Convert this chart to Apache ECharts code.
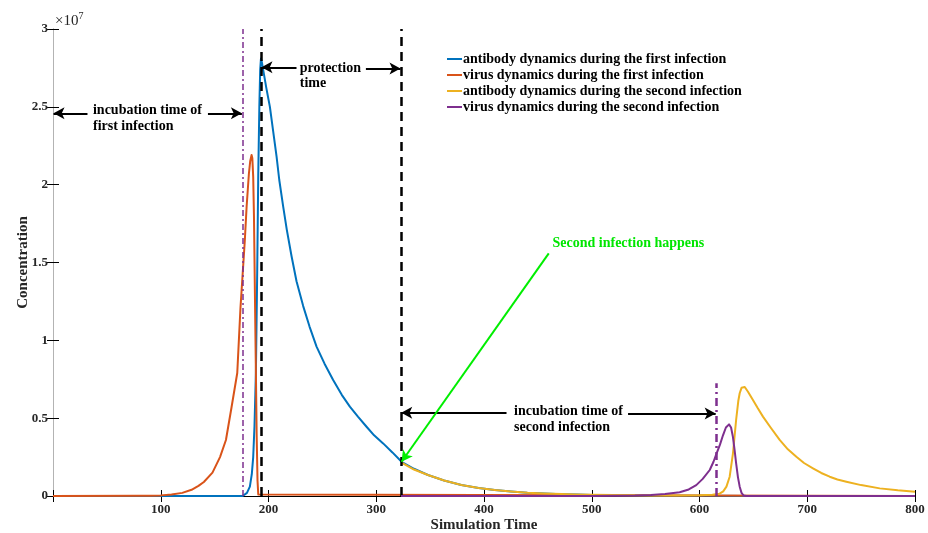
<!DOCTYPE html>
<html>
<head>
<meta charset="utf-8">
<script src="https://cdn.jsdelivr.net/npm/echarts@6/dist/echarts.min.js"></script>
<style>
  html, body { margin: 0; padding: 0; background: #fff; }
  #chart { width: 928px; height: 533px; }
</style>
</head>
<body>
<div id="chart"></div>
<script>
// Concentrations are in units of 1e7 (see the "×10^7" axis multiplier).

// antibody dynamics during the first infection
const antibody1X = [0, 176, 180, 182.7, 184.5, 185.8, 187, 188.3, 189.5, 190.5, 191.5, 192.3, 193, 194, 196, 198, 201.3, 204, 207.5, 210, 213.6, 217, 221.4, 226, 232.2, 238, 244.6, 252, 260, 268, 275.5, 283, 291, 298, 306.4, 315, 323.5, 335, 348, 363, 379, 395, 410, 425, 440, 456, 472, 486, 500, 530, 560, 600, 650, 700, 800];
const antibody1Y = [0, 0, 0.02, 0.06, 0.14, 0.25, 0.45, 0.79, 1.43, 2.07, 2.5, 2.74, 2.81, 2.78, 2.7, 2.62, 2.5, 2.36, 2.18, 2.03, 1.86, 1.71, 1.54, 1.38, 1.22, 1.09, 0.96, 0.85, 0.745, 0.65, 0.574, 0.51, 0.445, 0.39, 0.338, 0.28, 0.22, 0.175, 0.135, 0.1, 0.071, 0.052, 0.039, 0.029, 0.021, 0.016, 0.012, 0.009, 0.007, 0.004, 0.002, 0.001, 0.0005, 0, 0];

// virus dynamics during the first infection
const virus1X = [0, 80, 90, 100, 110, 120, 128.6, 135, 140, 148, 155, 160.5, 165.7, 171, 174, 178, 179.7, 181.8, 183, 184.3, 185, 185.8, 186.5, 187.3, 188.2, 189, 189.8, 190.5, 191.5, 800];
const virus1Y = [0, 0.001, 0.002, 0.004, 0.009, 0.02, 0.04, 0.065, 0.09, 0.15, 0.25, 0.36, 0.57, 0.79, 1.21, 1.64, 1.86, 2.07, 2.15, 2.19, 2.17, 2.05, 1.8, 1.35, 0.85, 0.4, 0.1, 0.01, 0, 0];

// antibody dynamics during the second infection
const antibody2X = [323.5, 335, 348, 363, 379, 395, 410, 425, 440.6, 456, 472, 486, 500, 520, 540, 560, 580, 600, 612, 618.7, 622, 625, 628, 631, 634, 636, 637.3, 639, 640.4, 642, 645, 649.6, 654, 658.9, 666, 674.4, 682, 689.9, 697, 705.3, 713, 720.8, 728, 736.3, 750, 767.3, 784, 800];
const antibody2Y = [0.214, 0.17, 0.135, 0.1, 0.071, 0.052, 0.039, 0.029, 0.021, 0.016, 0.013, 0.01, 0.008, 0.006, 0.005, 0.004, 0.004, 0.005, 0.008, 0.015, 0.03, 0.06, 0.124, 0.27, 0.49, 0.61, 0.66, 0.695, 0.705, 0.7, 0.67, 0.617, 0.565, 0.51, 0.44, 0.36, 0.3, 0.252, 0.212, 0.178, 0.148, 0.124, 0.106, 0.092, 0.07, 0.049, 0.037, 0.028];

// virus dynamics during the second infection
const virus2X = [323, 500, 520, 540, 555, 568, 581.6, 590, 597, 603, 609.5, 613, 615.7, 619, 621.8, 624.5, 627.4, 629.3, 631, 632.5, 634, 635.7, 637.3, 639, 641, 643, 800];
const virus2Y = [0, 0, 0.001, 0.003, 0.007, 0.013, 0.024, 0.042, 0.07, 0.11, 0.167, 0.22, 0.27, 0.33, 0.39, 0.44, 0.46, 0.44, 0.38, 0.3, 0.21, 0.12, 0.06, 0.02, 0.003, 0, 0];

const seriesNames = [
  'antibody dynamics during the first infection',
  'virus dynamics during the first infection',
  'antibody dynamics during the second infection',
  'virus dynamics during the second infection'
];
const seriesColors = ['#0072BD', '#D95319', '#EDB120', '#7E2F8E'];

const xTicks = [0, 100, 200, 300, 400, 500, 600, 700, 800];
const xTickLabels = ['', '100', '200', '300', '400', '500', '600', '700', '800'];
const yTicks = [0, 0.5, 1, 1.5, 2, 2.5, 3];
const yTickLabels = ['0', '0.5', '1', '1.5', '2', '2.5', '3'];

// Event times on the simulation axis
const incubationStart1 = 176;
const antibodyPeak1 = 193;
const secondInfection = 323;
const incubationEnd2 = 616;
const incubationMarkTop2 = 0.724;

const FONT = '"Times New Roman", "Liberation Serif", serif';

function pairs(xs, ys) { return xs.map((x, i) => [x, ys[i]]); }
function tickLabel(ticks, labels) {
  return v => { const i = ticks.findIndex(t => Math.abs(t - v) < 1e-9); return i >= 0 ? labels[i] : ''; };
}

const arrowBlack = { color: '#000', width: 2, type: 'solid' };
const markLines = [
  // vertical markers
  [{ coord: [incubationStart1, 0], symbol: 'none', lineStyle: { color: '#7E2F8E', width: 1.5, type: [6, 3, 2, 3] } }, { coord: [incubationStart1, 3], symbol: 'none' }],
  [{ coord: [antibodyPeak1, 0], symbol: 'none', lineStyle: { color: '#000', width: 2.5, type: [9, 6] } }, { coord: [antibodyPeak1, 3], symbol: 'none' }],
  [{ coord: [secondInfection, 0], symbol: 'none', lineStyle: { color: '#000', width: 2.5, type: [9, 6] } }, { coord: [secondInfection, 3], symbol: 'none' }],
  [{ coord: [incubationEnd2, 0], symbol: 'none', lineStyle: { color: '#7E2F8E', width: 2.5, type: [8, 4, 2, 4] } }, { coord: [incubationEnd2, incubationMarkTop2], symbol: 'none' }],
  // arrows for "incubation time of first infection"
  [{ coord: [32, 2.458], symbol: 'none', lineStyle: arrowBlack }, { coord: [0.5, 2.458], symbol: 'arrow' }],
  [{ coord: [143.8, 2.458], symbol: 'none', lineStyle: arrowBlack }, { coord: [175.3, 2.458], symbol: 'arrow' }],
  // arrows for "protection time"
  [{ coord: [226, 2.754], symbol: 'none', lineStyle: arrowBlack }, { coord: [193.5, 2.754], symbol: 'arrow' }],
  [{ coord: [290.4, 2.747], symbol: 'none', lineStyle: arrowBlack }, { coord: [322.5, 2.747], symbol: 'arrow' }],
  // arrows for "incubation time of second infection"
  [{ coord: [420.9, 0.535], symbol: 'none', lineStyle: arrowBlack }, { coord: [323.2, 0.535], symbol: 'arrow' }],
  [{ coord: [533.7, 0.53], symbol: 'none', lineStyle: arrowBlack }, { coord: [615, 0.53], symbol: 'arrow' }],
  // green pointer to the second infection
  [{ coord: [460.1, 1.559], symbol: 'none', lineStyle: { color: '#00ee00', width: 2, type: 'solid' } }, { coord: [323.5, 0.22], symbol: 'arrow' }]
];

const chart = echarts.init(document.getElementById('chart'), null, { renderer: 'canvas' });

const lineSeries = [
  pairs(antibody1X, antibody1Y),
  pairs(virus1X, virus1Y),
  pairs(antibody2X, antibody2Y),
  pairs(virus2X, virus2Y)
].map((data, i) => ({
  name: seriesNames[i],
  type: 'line',
  data: data,
  symbol: 'none',
  smooth: false,
  color: seriesColors[i],
  lineStyle: { width: 2, color: seriesColors[i], join: 'round' },
  z: 2 + i
}));

const option = {
  animation: false,
  backgroundColor: '#fff',
  grid: { left: 53, right: 13, top: 29, bottom: 37, outerBoundsMode: 'none', containLabel: false },
  legend: {
    data: seriesNames,
    orient: 'vertical',
    left: 442,
    top: 47,
    itemWidth: 15,
    itemHeight: 10,
    itemGap: 2,
    icon: 'path://M0,4 L15,4 L15,6 L0,6 Z',
    textStyle: { fontFamily: FONT, fontWeight: 'bold', fontSize: 14, color: '#000', padding: [0, 0, 0, -4] }
  },
  xAxis: [{
    type: 'value', min: 0, max: 800, interval: 100, position: 'bottom',
    axisLine: { show: true, lineStyle: { color: '#000', width: 1 } },
    axisTick: { show: true, inside: true, length: 6, lineStyle: { color: '#000' } },
    axisLabel: { formatter: tickLabel(xTicks, xTickLabels), fontFamily: FONT, fontWeight: 'bold', fontSize: 13, color: '#262626', margin: 7 },
    splitLine: { show: false }
  }, {
    type: 'value', min: 0, max: 800, interval: 100, position: 'top',
    axisLine: { show: true, lineStyle: { color: '#000', width: 1 } },
    axisTick: { show: true, inside: true, length: 6, lineStyle: { color: '#000' } },
    axisLabel: { show: false },
    splitLine: { show: false }
  }],
  yAxis: [{
    type: 'value', min: 0, max: 3, interval: 0.5, position: 'left',
    axisLine: { show: true, lineStyle: { color: '#b3b3b3', width: 1 } },
    axisTick: { show: true, inside: true, length: 6, lineStyle: { color: '#000' } },
    axisLabel: { formatter: tickLabel(yTicks, yTickLabels), fontFamily: FONT, fontWeight: 'bold', fontSize: 13, color: '#262626', margin: 5 },
    splitLine: { show: false }
  }, {
    type: 'value', min: 0, max: 3, interval: 0.5, position: 'right',
    axisLine: { show: true, lineStyle: { color: '#b3b3b3', width: 1 } },
    axisTick: { show: true, inside: true, length: 6, lineStyle: { color: '#000' } },
    axisLabel: { show: false },
    splitLine: { show: false }
  }],
  series: lineSeries.concat([{
    name: 'markers',
    type: 'line',
    data: [],
    z: 10,
    silent: true,
    markLine: {
      silent: true,
      animation: false,
      symbolSize: [9, 11],
      label: { show: false },
      emphasis: { disabled: true },
      data: markLines
    }
  }])
};
chart.setOption(option);

// Annotation texts, anchored in data coordinates (left edge, vertical centre of first line)
const notes = [
  { at: [37.1, 2.475], text: 'incubation time of\nfirst infection', color: '#000', lh: 16 },
  { at: [229, 2.748], text: 'protection\ntime', color: '#000', lh: 15.5 },
  { at: [427.9, 0.542], text: 'incubation time of\nsecond infection', color: '#000', lh: 15.5 },
  { at: [463.6, 1.62], text: 'Second infection happens', color: '#00e600', lh: 15 }
];
const graphics = notes.map(n => {
  const p = chart.convertToPixel({ xAxisIndex: 0, yAxisIndex: 0 }, n.at);
  return {
    type: 'text', left: p[0], top: p[1] - n.lh / 2, silent: true,
    style: { text: n.text, fill: n.color, font: 'bold 14px ' + FONT, lineHeight: n.lh, textVerticalAlign: 'top' }
  };
});
// axis titles, centred on the plot area
const plotLeftBottom = chart.convertToPixel({ xAxisIndex: 0, yAxisIndex: 0 }, [0, 0]);
const plotRightTop = chart.convertToPixel({ xAxisIndex: 0, yAxisIndex: 0 }, [800, 3]);
graphics.push({
  type: 'text', x: (plotLeftBottom[0] + plotRightTop[0]) / 2, y: plotLeftBottom[1] + 29, silent: true,
  style: { text: 'Simulation Time', fill: '#262626', font: 'bold 15px ' + FONT, textAlign: 'center', textVerticalAlign: 'middle' }
});
graphics.push({
  type: 'text', x: plotLeftBottom[0] - 30, y: (plotLeftBottom[1] + plotRightTop[1]) / 2, rotation: Math.PI / 2, silent: true,
  style: { text: 'Concentration', fill: '#262626', font: 'bold 15px ' + FONT, textAlign: 'center', textVerticalAlign: 'middle' }
});
// "×10^7" multiplier above the y axis
graphics.push({
  type: 'text', left: 55, top: 11, silent: true,
  style: {
    text: '{b|×10}{s|7}',
    rich: {
      b: { font: '15px ' + FONT, fill: '#262626', verticalAlign: 'bottom', lineHeight: 18 },
      s: { font: '10px ' + FONT, fill: '#262626', verticalAlign: 'top', lineHeight: 18, padding: [0, 0, 8, 0] }
    }
  }
});
chart.setOption({ graphic: graphics });
</script>
</body>
</html>
